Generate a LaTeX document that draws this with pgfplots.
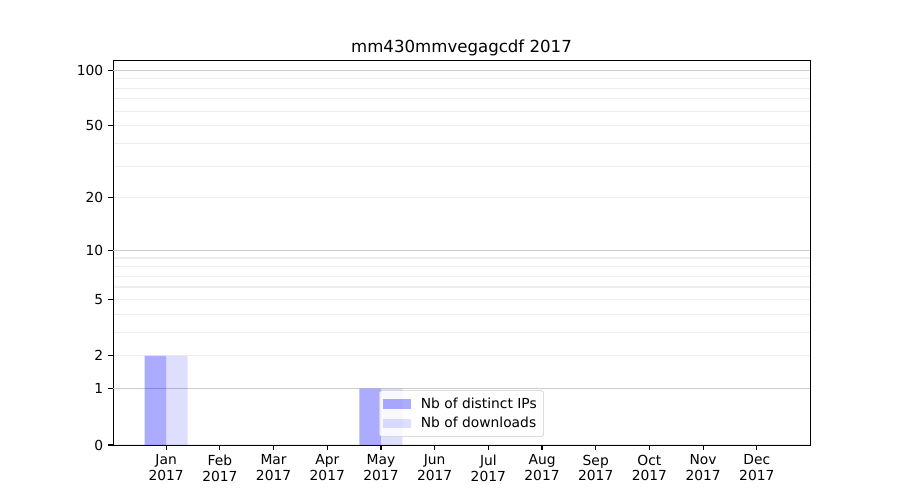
\documentclass[border=0pt]{standalone}
\usepackage{pgfplots}
\pgfplotsset{compat=1.18}
\usepackage{fontspec}
\setmainfont{DejaVu Sans}
\begin{document}
\begin{tikzpicture}
\useasboundingbox (0,0) rectangle (9in,5in);
\begin{axis}[
  at={(1.13in,0.55in)}, anchor=south west,
  scale only axis, width=6.97in, height=3.85in,
  font=\fontsize{10}{12}\selectfont,
  xmin=-0.99, xmax=11.99,
  ymin=0, ymax=113.6,
  y coord trafo/.code={\pgfmathparse{log10(1+#1)}},
  y coord inv trafo/.code={\pgfmathparse{10^(#1)-1}},
  xtick={0,1,2,3,4,5,6,7,8,9,10,11},
  xticklabels={{Jan\\2017},{Feb\\2017},{Mar\\2017},{Apr\\2017},{May\\2017},{Jun\\2017},{Jul\\2017},{Aug\\2017},{Sep\\2017},{Oct\\2017},{Nov\\2017},{Dec\\2017}},
  xticklabel style={align=center, font=\fontsize{10}{11.5}\selectfont},
  ytick={0,1,2,5,10,20,50,100},
  yticklabels={0,1,2,5,10,20,50,100},
  minor ytick={3,4,6,7,8,9,30,40,60,70,80,90},
  ymajorgrids, yminorgrids,
  major grid style={color=black!7, line width=0.8pt},
  minor grid style={color=black!7, line width=0.8pt},
  minor tick length=0pt,
  extra y ticks={1,10,100},
  extra y tick labels={},
  extra y tick style={grid=major, major grid style={color=black!20, line width=0.8pt}, major tick length=0pt},
  tick align=outside, major tick length=3.5pt,
  tick style={black, line width=0.8pt},
  xtick pos=left, ytick pos=left,
  axis line style={line width=0.7pt},
  title={mm430mmvegagcdf 2017},
  title style={font=\fontsize{12}{14}\selectfont, at={(0.5,1)}, anchor=base, yshift=-0.5pt},
  legend style={at={(0.5,0.021)}, anchor=south, draw=black!20, rounded corners=2pt,
    fill=white, fill opacity=0.8, text opacity=1, font=\fontsize{10}{12}\selectfont,
    row sep=1pt, inner sep=3pt,
    /tikz/every odd column/.append style={column sep=5pt}},
  legend cell align=left,
  legend image code/.code={\fill[#1, sharp corners] (0pt,-3.5pt) rectangle (20pt,3.5pt);},
]
\addplot[ybar, bar width=0.4, bar shift=-0.2, fill=blue, fill opacity=0.33, draw=none]
  coordinates {(0,2) (1,0) (2,0) (3,0) (4,1) (5,0) (6,0) (7,0) (8,0) (9,0) (10,0) (11,0)};
\addlegendentry{Nb of distinct IPs}
\addplot[ybar, bar width=0.4, bar shift=0.2, fill=blue, fill opacity=0.13, draw=none]
  coordinates {(0,2) (1,0) (2,0) (3,0) (4,1) (5,0) (6,0) (7,0) (8,0) (9,0) (10,0) (11,0)};
\addlegendentry{Nb of downloads}
\end{axis}
\end{tikzpicture}
\end{document}
